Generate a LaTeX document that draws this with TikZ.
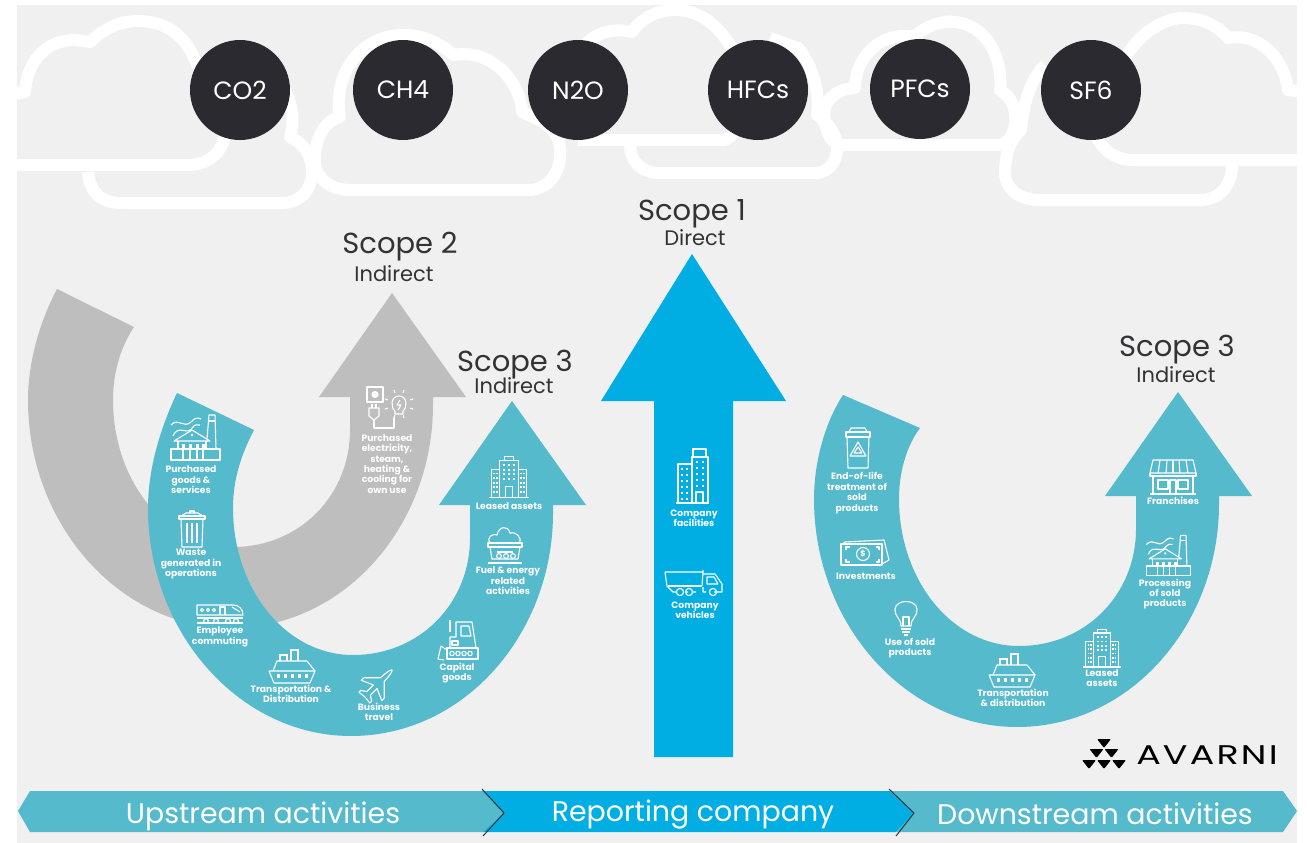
\documentclass[tikz,border=0pt]{standalone}
\usepackage{fontspec}
\setmainfont{Poppins}
\newfontfamily\logofont[LetterSpace=6]{Poppins}
\usetikzlibrary{calc}
\definecolor{pagegray}{HTML}{F0F0F0}
\definecolor{teal}{HTML}{56BACD}
\definecolor{skyblue}{HTML}{00AEE4}
\definecolor{archgray}{HTML}{BEBEBE}
\definecolor{gasdark}{HTML}{2B2A30}
\definecolor{inkdark}{HTML}{333336}
\newcommand{\uarrow}[5]{
    \fill[#1,shift={(#2,#3)}] (57,#4) .. controls (38,325) and (28,365) .. (28,400)
        .. controls (28,525) and (120,628) .. (231,628)
        .. controls (345,628) and (433,525) .. (433,405) -- (433,397) -- (466,397)
        -- (392,293) -- (319,397) -- (350,397) -- (350,430)
        .. controls (350,495) and (300,547) .. (233,547)
        .. controls (165,547) and (113,480) .. (113,400)
        .. controls (113,370) and (122,345) .. (134,#5) -- cycle;
}
\tikzset{
    cloudline/.style={draw=white, line width=12pt, line join=round},
    gas/.style={circle, fill=gasdark, text=white, minimum size=100pt, inner sep=0pt, font=\fontsize{25}{25}\selectfont},
    scopetitle/.style={anchor=base, text=inkdark, font=\fontsize{29}{29}\selectfont},
    scopesub/.style={anchor=base, text=inkdark, font=\fontsize{21}{21}\selectfont},
    lbl/.style={text=white, align=center, inner sep=0pt, font=\fontsize{9.2}{10.4}\selectfont\bfseries},
    band/.style={anchor=base, text=white, inner sep=0pt, font=\fontsize{28.4}{28.4}\selectfont},
    icon/.style={draw=white, line width=1.1pt, line join=round},
    building/.pic={
        \draw[icon] (-22,20) -- (22,20);
        \draw[icon] (-19,20) -- (-19,-10) -- (-10,-10);
        \draw[icon] (19,20) -- (19,-10) -- (10,-10);
        \draw[icon] (-10,20) -- (-10,-20) -- (10,-20) -- (10,20);
        \draw[icon] (-5,-20) -- (-5,-24) -- (5,-24) -- (5,-20);
        \draw[icon] (-4,20) -- (-4,8) -- (4,8) -- (4,20);
        \foreach \wx in {-5,0,5} \foreach \wy in {-15,-10,-5,0}
            \fill[white] (\wx-1,\wy-1) rectangle (\wx+1,\wy+1);
        \foreach \wx in {-16,-13,13,16} \foreach \wy in {-6,-1,4,9,14}
            \fill[white] (\wx-1,\wy-1) rectangle (\wx+1,\wy+1);
    },
    towers/.pic={
        \draw[icon] (-17,27) -- (16,27);
        \draw[icon] (-15,27) -- (-15,-12) -- (-1,-12);
        \draw[icon] (-1,27) -- (-1,-19) -- (15,-19) -- (15,27);
        \draw[icon] (0,-19) -- (0,-27) -- (13,-27) -- (13,-19);
        \draw[icon] (3,27) -- (3,16) -- (10,16) -- (10,27);
        \foreach \wx in {-11,-6} \foreach \wy in {-7,-1,5,11,17,23}
            \fill[white] (\wx-1,\wy-1) rectangle (\wx+1,\wy+1);
        \foreach \wx in {4,10} \foreach \wy in {-14,-8,-2,4,10}
            \fill[white] (\wx-1,\wy-1) rectangle (\wx+1,\wy+1);
    },
    truck/.pic={
        \draw[icon] (-29,-11) -- (9,-11) -- (9,-13) (9,-11) -- (8,3) (-29,-11) -- (-27,3) -- (-21,9) -- (-17,9)
            (-9,9) -- (-6,9) (2,9) -- (-2,9) (9,4) -- (9,9) -- (12,9) (20,9) -- (28,9) -- (28,1) -- (21,-9) -- (9,-9);
        \draw[icon] (-26,3) -- (8,3);
        \draw[icon] (13,-6) -- (20,-6) -- (24,1) -- (13,1) -- cycle;
        \foreach \wx in {-14,-5,19} \draw[icon] (\wx,9) circle (3.6);
    },
    factory/.pic={
        \draw[icon] (-24,-14) .. controls (-16,-22) and (-12,-10) .. (-4,-17) .. controls (0,-21) and (2,-22) .. (6,-20);
        \draw[icon] (-22,-3) .. controls (-16,-16) and (-8,-2) .. (-2,-12) .. controls (0,-15) and (2,-14) .. (5,-14);
        \draw[icon] (12,0) -- (14,-24) -- (20,-24) -- (21,10);
        \draw[icon] (14,-18) -- (20,-18);
        \draw[icon] (-21,2) -- (-3,-9) -- (15,2) -- cycle;
        \draw[icon] (-17,2) -- (-17,10) (11,2) -- (11,10);
        \draw[icon] (-24,10) rectangle (25,21);
        \foreach \wx in {-12,-5,2,8} {
            \fill[white] (\wx-1.5,5) rectangle (\wx+1.5,9);
            \draw[icon] (\wx+0,10) -- (\wx+0,21);
        }
        \fill[white] (-3,-4) circle (1.4);
    },
    trash/.pic={
        \draw[icon] (-13,-13) -- (13,-13) -- (13,-10) -- (-13,-10) -- cycle;
        \draw[icon] (-11,-13) -- (-6,-16) -- (6,-16) -- (11,-13);
        \draw[icon] (-2,-16) -- (-2,-18) -- (2,-18) -- (2,-16);
        \draw[icon] (-11,-10) -- (-10,18) -- (10,18) -- (11,-10);
        \foreach \wx in {-5,0,5} \draw[icon] (\wx,-6) -- (\wx,14);
    },
    train/.pic={
        \draw[icon] (-23,2) -- (-23,-8) -- (13,-8) .. controls (19,-8) and (23,-4) .. (23,2) -- cycle;
        \draw[icon] (-23,5) -- (23,5) (-23,10) -- (23,10);
        \foreach \wx in {-18,-12,-6} \draw[icon] (\wx,-3) circle (1.6);
        \draw[icon] (0,2) -- (0,-6) -- (5,-6) -- (5,2);
        \draw[icon] (12,-6) -- (20,-1);
        \foreach \wx in {-14,-4,8,16} \draw[icon] (\wx,8) circle (2.4);
    },
    ship/.pic={
        \draw[icon] (-19,3) -- (-15,-7) -- (15,-7) -- (23,3);
        \draw[icon] (-23,3) -- (23,3) -- (18,15) -- (-18,15) -- cycle;
        \draw[icon] (-12,-7) -- (-12,-13) -- (-5,-13) -- (-5,-7);
        \draw[icon] (-1,-7) -- (-1,-18) -- (6,-18) -- (6,-7);
        \draw[icon] (-13,-13) -- (-4,-13) (-2,-18) -- (7,-18);
        \foreach \wx in {-14,-7,0,7,14} \fill[white] (\wx-1.5,6) rectangle (\wx+1.5,10);
    },
    plane/.pic={
        \draw[icon,rotate=-135] (-25,0) .. controls (-25,-2) and (-14,-3) .. (-9,-3) -- (5,-17) -- (9,-17) -- (3,-3)
            -- (14,-3) -- (18,-9) -- (21,-9) -- (20,0) -- (21,9) -- (18,9) -- (14,3) -- (3,3) -- (9,17) -- (5,17) -- (-9,3)
            .. controls (-14,3) and (-25,2) .. (-25,0) -- cycle;
    },
    dozer/.pic={
        \draw[icon] (-11,8) rectangle (20,19);
        \foreach \wx in {-6,0,6,12} \draw[icon] (\wx,13.5) circle (2.2);
        \draw[icon] (-8,8) -- (-8,-3) -- (-2,-3) -- (-2,-18) -- (14,-18) -- (18,8);
        \draw[icon] (3,-14) -- (11,-14) -- (13,-4) -- (3,-4) -- cycle;
        \draw[icon] (-8,-8) -- (-8,-20);
        \draw[icon] (-11,10) -- (-17,6) -- (-20,19) -- (-14,20);
        \draw[icon] (-6,1) rectangle (0,5);
    },
    cart/.pic={
        \draw[icon] (-15,-2) .. controls (-19,-8) and (-12,-12) .. (-8,-10) .. controls (-6,-19) and (3,-20) .. (5,-12)
            .. controls (10,-14) and (17,-8) .. (15,-2);
        \draw[icon] (-17,-2) -- (17,-2) -- (17,2) -- (-17,2) -- cycle;
        \draw[icon] (-15,2) -- (-13,14) -- (13,14) -- (15,2);
        \draw[icon] (-8,7) -- (8,7);
        \foreach \wx in {-6,1,8} \draw[icon] (\wx,11) circle (2.4);
        \draw[icon] (-17,18) -- (17,18);
    },
    plugbulb/.pic={
        \draw[icon] (-21,-21) rectangle (-5,-6);
        \fill[white] (-13,-13.5) circle (3.6);
        \draw[icon] (-19,0) -- (-9,0) -- (-9,8) -- (-14,12) -- (-19,8) -- cycle;
        \draw[icon] (-16,0) -- (-16,-4) (-12,0) -- (-12,-4);
        \draw[icon] (-14,12) -- (-14,20) -- (6,20) -- (6,10);
        \draw[icon] (7,3) .. controls (2,-1) and (3,-12) .. (11,-12) .. controls (19,-12) and (20,-1) .. (15,3) -- (15,6) -- (7,6) -- cycle;
        \draw[icon] (12,-8) -- (9,-3) -- (13,-3) -- (10,2);
        \foreach \ra in {-20,20,70,110,160,200,250,290} \draw[icon] ($(11,-4)+(\ra:12)$) -- ($(11,-4)+(\ra:15)$);
    },
    recyclebin/.pic={
        \draw[icon] (-11,-11) -- (-10,20) -- (10,20) -- (11,-11) -- cycle;
        \draw[icon] (-12,-16) -- (12,-16) -- (12,-11) -- (-12,-11) -- cycle;
        \draw[icon] (-9,-16) -- (-7,-20) -- (7,-20) -- (9,-16);
        \draw[icon] (0,-6) -- (8,8) -- (-8,8) -- cycle;
        \draw[icon] (0,-1) -- (4,5) -- (-4,5) -- cycle;
    },
    money/.pic={
        \draw[icon] (-24,-10) rectangle (17,11);
        \draw[icon] (-22,-10) -- (-20,-12) -- (19,-14) -- (24,6) -- (17,10);
        \draw[icon] (-2,0) circle (6.5);
        \node[text=white, inner sep=0pt, font=\fontsize{8}{8}\selectfont\bfseries] (dollar) at (-2,0) {\$};
        \draw[icon] (-19,-4) -- (-19,-7) -- (-15,-7) (11,-7) -- (14,-7) -- (14,-4) (-19,5) -- (-19,8) -- (-15,8) (11,8) -- (14,8) -- (14,5);
    },
    bulb/.pic={
        \draw[icon] (-5,8) .. controls (-5,0) and (-12,-2) .. (-11,-9) .. controls (-10,-19) and (10,-19) .. (11,-9) .. controls (12,-2) and (5,0) .. (5,8) -- cycle;
        \draw[icon] (-3,8) -- (-3,-1) -- (3,-1) -- (3,8);
        \draw[icon] (-5,11) -- (5,11) (-4,14) -- (4,14) (-2,17) -- (2,17);
    },
    store/.pic={
        \draw[icon] (-20,-17) -- (20,-17) -- (23,-4) -- (-23,-4) -- cycle;
        \draw[icon] (-23,-4) -- (-23,-1) -- (23,-1) -- (23,-4);
        \foreach \wx in {-13,-6,0,6,13} \draw[icon] (\wx,-17) -- (\wx*1.15,-4);
        \draw[icon] (-20,-1) -- (-20,17) (20,-1) -- (20,17) (-23,17) -- (23,17);
        \draw[icon] (-15,3) rectangle (-5,12);
        \draw[icon] (5,3) rectangle (15,12);
        \draw[icon] (-3,17) -- (-3,3) -- (3,3) -- (3,17);
    }
}
\begin{document}
\begin{tikzpicture}[x=1pt,y=-1pt]
    \useasboundingbox (0,0) rectangle (1307,843);
    \fill[white] (0,0) rectangle (1307,843);
    \fill[pagegray] (17,5) rectangle (1297,843);

    % clouds
    \begin{scope}
    \clip (17,5) rectangle (1297,843);
    \draw[cloudline] (10,95) -- (25,92) .. controls (27,62) and (45,40) .. (75,40) -- (90,42)
        .. controls (105,28) and (120,21) .. (138,21) .. controls (165,21) and (185,35) .. (195,60)
        -- (225,130) .. controls (225,150) and (210,165) .. (188,165) -- (10,165);
    \draw[cloudline] (88,172) .. controls (90,192) and (100,203) .. (122,203) -- (282,203)
        .. controls (300,203) and (312,190) .. (312,172) .. controls (312,155) and (303,143) .. (290,137)
        .. controls (295,120) and (292,105) .. (285,90);
    \draw[cloudline] (315,165) .. controls (313,140) and (325,120) .. (340,117)
        .. controls (333,80) and (355,38) .. (400,35) .. controls (420,34) and (440,42) .. (453,55)
        .. controls (490,48) and (520,80) .. (522,112) -- (535,118)
        .. controls (550,125) and (560,135) .. (560,150) .. controls (562,172) and (548,190) .. (528,190)
        -- (350,190) .. controls (330,190) and (317,178) .. (315,165) -- cycle;
    \draw[cloudline] (578,140) -- (725,140) .. controls (750,130) and (745,60) .. (725,38)
        .. controls (712,20) and (695,10) .. (675,10) .. controls (655,10) and (640,20) .. (632,32)
        .. controls (615,28) and (600,32) .. (590,40) -- (575,55);
    \draw[cloudline] (630,145) .. controls (630,160) and (640,173) .. (660,173) -- (815,173)
        .. controls (830,173) and (837,160) .. (837,148) .. controls (837,135) and (828,122) .. (817,115)
        .. controls (820,90) and (812,65) .. (798,48) -- (770,38);
    \draw[cloudline] (1000,145) -- (842,145) .. controls (830,145) and (822,125) .. (825,108)
        .. controls (828,97) and (840,88) .. (855,88) .. controls (855,65) and (870,40) .. (900,36)
        -- (915,36) .. controls (925,27) and (940,20) .. (955,22) .. controls (985,25) and (1003,55) .. (1000,90)
        .. controls (1012,97) and (1017,110) .. (1015,125) .. controls (1012,138) and (1005,145) .. (1000,145) -- cycle;
    \draw[cloudline] (1045,65) .. controls (1030,80) and (1023,105) .. (1021,130)
        .. controls (1010,140) and (1005,155) .. (1005,172) .. controls (1005,190) and (1020,200) .. (1040,200)
        -- (1200,200) .. controls (1220,200) and (1232,185) .. (1232,165);
    \draw[cloudline] (1120,70) .. controls (1130,40) and (1160,18) .. (1183,18)
        .. controls (1205,18) and (1220,28) .. (1228,38) .. controls (1260,32) and (1285,60) .. (1288,90) -- (1305,92);
    \draw[cloudline] (1305,160) -- (1134,160) .. controls (1115,160) and (1102,150) .. (1096,135);
    \end{scope}

    \foreach \x/\y/\gasname in {240/90/CO2,403/90/CH4,578/90/N2O,758/90/HFCs,920/89/PFCs,1091/90/SF6} {
        \node[gas] (\gasname) at (\x,\y) {\gasname};
    }

    \uarrow{archgray}{0}{0}{289}{327}
    \uarrow{teal}{120}{108}{285}{322}
    \uarrow{teal}{786}{99}{296}{329}
    \fill[skyblue] (654,757) -- (654,401) -- (601,401) -- (692,254) -- (786,401) -- (733,401) -- (733,757) -- cycle;

    \node[scopetitle] (scopeone) at (692,220) {Scope 1};
    \node[scopesub] (direct) at (695,245) {Direct};
    \node[scopetitle] (scopetwo) at (400,253) {Scope 2};
    \node[scopesub] (indirecttwo) at (394,281) {Indirect};
    \node[scopetitle] (scopethreeup) at (515,371) {Scope 3};
    \node[scopesub] (indirectup) at (514,393) {Indirect};
    \node[scopetitle] (scopethreedown) at (1177,356) {Scope 3};
    \node[scopesub] (indirectdown) at (1176,382) {Indirect};

    % upstream
    \pic at (195,439) {factory};
    \node[lbl] (goods) at (191,480) {Purchased\\goods \&\\services};
    \pic at (192,529) {trash};
    \node[lbl] (waste) at (191,564) {Waste\\generated in\\operations};
    \pic at (220,613) {train};
    \node[lbl] (commuting) at (220,637) {Employee\\commuting};
    \pic at (292,668) {ship};
    \node[lbl] (transportup) at (291,694) {Transportation \&\\Distribution};
    \pic[scale=0.85] at (377,685) {plane};
    \node[lbl] (travel) at (379,712) {Business\\travel};
    \pic at (458,640) {dozer};
    \node[lbl] (capital) at (457,673) {Capital\\goods};
    \pic at (505,545) {cart};
    \node[lbl] (fuel) at (508,581) {Fuel \& energy\\related\\activities};
    \pic[scale=0.92] at (509,479) {building};
    \node[lbl] (leasedup) at (509,506) {Leased assets};
    \pic at (388,408) {plugbulb};
    \node[lbl] (electricity) at (387,464) {Purchased\\electricity,\\steam,\\heating \&\\cooling for\\own use};

    % reporting company
    \pic at (693,476) {towers};
    \node[lbl] (facilities) at (694,518) {Company\\facilities};
    \pic at (694,583) {truck};
    \node[lbl] (vehicles) at (695,610) {Company\\vehicles};

    % downstream
    \pic at (858,448) {recyclebin};
    \node[lbl] (endoflife) at (857,493) {End-of-life\\treatment of\\sold\\products};
    \pic at (865,554) {money};
    \node[lbl] (investments) at (866,576) {Investments};
    \pic at (906,618) {bulb};
    \node[lbl] (usesold) at (910,648) {Use of sold\\products};
    \pic at (1012,672) {ship};
    \node[lbl] (transportdown) at (1013,698) {Transportation\\\& distribution};
    \pic[scale=0.85] at (1102,650) {building};
    \node[lbl] (leaseddown) at (1102,678) {Leased\\assets};
    \pic[scale=0.9] at (1168,557) {factory};
    \node[lbl] (processing) at (1165,594) {Processing\\of sold\\products};
    \pic at (1173,477) {store};
    \node[lbl] (franchises) at (1173,501) {Franchises};

    % logo
    \foreach \tx/\ty in {1104/739,1096.5/749,1111.5/749,1089/760,1104/760,1119/760} {
        \fill[black,rounded corners=1pt] (\tx-7,\ty) -- (\tx+7,\ty) -- (\tx,\ty+9) -- cycle;
    }
    \node[anchor=base, inner sep=0pt, text=black] (avarni) at (1207,764) {\scalebox{1.35}[1]{\logofont\fontsize{27}{27}\selectfont AVARNI}};

    % bottom band
    \fill[teal] (18,811) -- (30,791) -- (482,791) -- (504,813) -- (483,832) -- (30,832) -- cycle;
    \fill[teal] (890,791) -- (1283,791) -- (1297,811) -- (1283,832) -- (896,832) -- (914,813) -- cycle;
    \fill[skyblue] (482,791) -- (890,791) -- (914,813) -- (896,832) -- (483,832) -- (504,813) -- cycle;
    \draw[inkdark,line width=1pt] (482,789) -- (504,813) -- (483,836);
    \draw[inkdark,line width=1pt] (889,789) -- (914,813) -- (896,836);
    \node[band] (upstream) at (263,823) {Upstream activities};
    \node[band] (reporting) at (693,821.5) {Reporting company};
    \node[band] (downstream) at (1095,824) {Downstream activities};
\end{tikzpicture}
\end{document}
